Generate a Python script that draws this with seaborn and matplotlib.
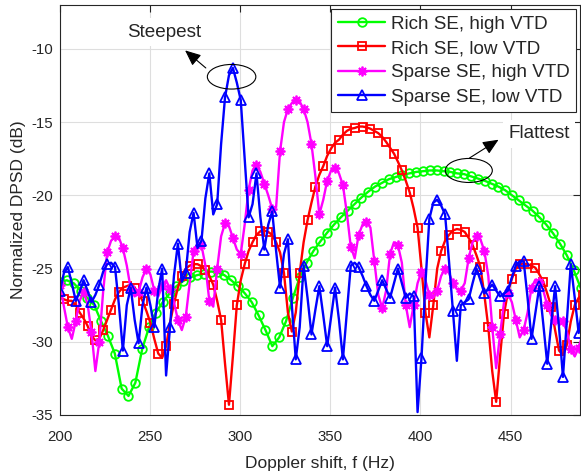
import numpy as np
import matplotlib
matplotlib.use("Agg")
import matplotlib.pyplot as plt
from matplotlib.patches import Ellipse
from matplotlib.lines import Line2D
import seaborn as sns

# Doppler-frequency sampling (Hz): fine grid for the rich/sparse low-VTD and
# sparse high-VTD spectra, coarser grid for the rich high-VTD spectrum.
F_START = 200.0
FINE_STEP = 2.18
COARSE_STEP = 3.8

# Normalized DPSD values (dB)
RICH_HIGH_DB = [
    -25.9, -25.8, -26.0, -26.5, -27.0, -27.5, -28.6, -29.6, -30.8, -33.2,
    -33.7, -32.8, -30.5, -29.0, -28.0, -27.3, -26.7, -26.2, -25.85, -25.6,
    -25.45, -25.35, -25.2, -25.25, -25.45, -25.8, -26.2, -26.7, -27.3, -28.2,
    -29.2, -30.3, -29.7, -28.6, -27.0, -25.6, -24.6, -23.8, -23.15, -22.55,
    -22.0, -21.5, -21.05, -20.6, -20.15, -19.75, -19.4, -19.15, -18.9, -18.75,
    -18.6, -18.5, -18.4, -18.35, -18.3, -18.3, -18.35, -18.4, -18.5, -18.55,
    -18.7, -18.85, -19.0, -19.2, -19.4, -19.65, -20.0, -20.35, -20.7, -21.05,
    -21.5, -22.0, -22.6, -23.3, -24.1, -25.1, -26.3, -27.5,
]

RICH_LOW_DB = [
    -27.0, -27.1, -27.2, -27.2, -27.5, -28.0, -28.4, -28.9, -29.6, -29.9,
    -29.8, -29.2, -28.5, -27.8, -27.1, -26.6, -26.3, -26.2, -26.1, -26.3,
    -26.7, -27.2, -27.9, -28.7, -29.8, -30.8, -31.1, -30.3, -28.7, -27.4,
    -26.3, -25.5, -25.0, -24.8, -24.7, -24.7, -24.85, -25.1, -25.5, -26.1,
    -27.2, -28.5, -31.5, -34.3, -31.0, -27.5, -25.8, -24.7, -23.8, -23.2,
    -22.7, -22.45, -22.4, -22.5, -22.7, -23.2, -23.9, -25.3, -28.0, -29.3,
    -28.0, -25.3, -23.2, -21.7, -20.5, -19.4, -18.6, -18.0, -17.3, -16.8,
    -16.4, -16.2, -15.85, -15.6, -15.45, -15.4, -15.3, -15.3, -15.35, -15.45,
    -15.6, -15.75, -16.0, -16.35, -16.75, -17.15, -17.7, -18.3, -19.0, -19.8,
    -20.9, -22.2, -25.0, -28.0, -29.7, -27.5, -25.0, -23.8, -23.1, -22.7,
    -22.4, -22.3, -22.35, -22.5, -22.9, -23.4, -24.1, -24.9, -26.8, -29.0,
    -32.0, -34.1, -31.0, -28.1, -26.6, -25.7, -25.0, -24.7, -24.65, -24.7,
    -24.8, -24.95, -25.4, -25.9, -26.7, -27.6, -29.2, -30.6, -30.9, -30.2,
    -28.6, -27.5, -27.0, -26.8,
]

SPARSE_HIGH_DB = [
    -26.1, -27.6, -29.0, -29.8, -28.6, -27.2, -26.6, -27.4, -29.3, -32.0,
    -30.0, -26.5, -23.9, -23.1, -22.8, -22.9, -23.6, -24.8, -26.4, -26.9,
    -26.6, -25.6, -25.0, -25.4, -26.5, -26.9, -26.2, -25.8, -26.4, -27.3,
    -28.5, -29.2, -28.3, -26.0, -23.8, -23.3, -23.4, -24.8, -27.2, -27.6,
    -25.0, -22.8, -21.9, -22.1, -22.9, -23.7, -24.0, -22.0, -19.6, -18.3,
    -17.9, -18.4, -19.2, -20.0, -20.9, -20.8, -17.0, -15.0, -14.1, -13.7,
    -13.5, -13.6, -14.1, -15.0, -16.5, -18.7, -21.3, -20.3, -19.0, -18.3,
    -18.1, -18.5, -19.3, -21.2, -23.5, -24.3, -22.7, -22.0, -21.8, -22.2,
    -24.5, -26.8, -27.7, -26.5, -24.0, -23.2, -23.4, -24.6, -27.5, -29.0,
    -27.5, -26.0, -25.2, -25.8, -26.8, -27.0, -26.5, -25.5, -25.0, -25.3,
    -26.0, -26.4, -26.5, -26.0, -24.3, -23.2, -22.8, -23.0, -23.8, -25.5,
    -29.0, -31.8, -29.5, -27.3, -26.7, -27.3, -28.5, -29.7, -29.2, -28.0,
    -26.3, -25.75, -25.9, -26.5, -27.5, -28.2, -28.5, -28.6, -28.6, -29.3,
    -30.5, -31.0, -30.4, -29.5,
]

SPARSE_LOW_DB = [
    -26.5, -25.3, -24.9, -26.0, -27.2, -26.6, -25.8, -26.5, -27.3, -26.8,
    -26.1, -25.2, -24.7, -24.6, -24.9, -27.5, -30.6, -27.5, -26.3, -28.5,
    -30.1, -27.5, -26.3, -27.5, -29.0, -26.5, -25.0, -32.3, -29.0, -25.5,
    -23.3, -25.9, -25.3, -22.5, -21.2, -23.6, -23.1, -20.2, -18.5, -21.3,
    -20.6, -16.5, -13.3, -11.8, -11.3, -12.3, -13.5, -17.5, -21.5, -20.6,
    -18.5, -21.5, -23.7, -22.0, -21.1, -23.8, -26.3, -24.0, -23.0, -27.5,
    -31.2, -29.0, -24.8, -27.0, -29.5, -27.8, -26.2, -28.2, -30.3, -28.3,
    -26.3, -28.5, -31.2, -28.0, -24.8, -24.6, -24.9, -25.5, -26.2, -26.8,
    -27.2, -26.5, -25.8, -26.4, -27.0, -26.0, -25.0, -26.0, -27.0, -26.7,
    -26.9, -34.8, -31.1, -26.0, -21.6, -20.5, -20.3, -20.7, -21.3, -24.5,
    -27.9, -31.3, -27.5, -27.3, -27.1, -26.0, -25.0, -25.8, -26.7, -26.4,
    -26.1, -26.5, -26.9, -26.7, -26.5, -25.6, -24.8, -24.5, -24.5, -27.0,
    -29.8, -28.0, -26.2, -28.8, -31.5, -28.8, -26.2, -29.0, -32.4, -28.5,
    -24.7, -27.0, -29.4, -27.5,
]

LABELS = ["Rich SE, high VTD", "Rich SE, low VTD",
          "Sparse SE, high VTD", "Sparse SE, low VTD"]
X_TICKS = [200, 250, 300, 350, 400, 450]
Y_TICKS = [-35, -30, -25, -20, -15, -10]

freq_fine = np.round(F_START + FINE_STEP * np.arange(len(RICH_LOW_DB)), 2)
freq_coarse = np.round(F_START + COARSE_STEP * np.arange(len(RICH_HIGH_DB)), 2)

sns.set_theme(style="white")
plt.rcParams["font.family"] = ["Liberation Sans", "DejaVu Sans"]
plt.rcParams["axes.unicode_minus"] = False

INK = "#262626"
fig = plt.figure(figsize=(5.81, 4.75), dpi=100)
ax = fig.add_axes([60 / 581, 1 - 415 / 475, 520 / 581, 410 / 475])

styles = [
    # x, y, colour, marker, marker size, markevery
    (freq_coarse, RICH_HIGH_DB, "#00ff00", "o", 6.2, None),
    (freq_fine, RICH_LOW_DB, "#ff0000", "s", 6.0, (1, 2)),
    (freq_fine, SPARSE_HIGH_DB, "#ff00ff", (8, 2, 0), 7, (0, 2)),
    (freq_fine, SPARSE_LOW_DB, "#0000ff", "^", 7.5, (0, 2)),
]

handles = []
for x, y, col, mk, ms, every in styles:
    sns.lineplot(x=x, y=y, ax=ax, color=col, lw=1.7, marker=mk, markersize=ms,
                 markevery=every, mfc="none", mec=col, mew=1.3,
                 errorbar=None, sort=False, legend=False)
    handles.append(Line2D([], [], color=col, lw=1.7, marker=mk, markersize=ms,
                          mfc="none", mec=col, mew=1.3))

ax.set_xlim(200, 488.5)
ax.set_ylim(-35, -7)
ax.set_xticks(X_TICKS)
ax.set_yticks(Y_TICKS)
ax.grid(True, color="#dedede", lw=0.8)
ax.set_axisbelow(True)
for s in ax.spines.values():
    s.set_color(INK)
    s.set_linewidth(0.8)
ax.tick_params(direction="in", top=True, right=True, length=5, width=0.8,
               colors=INK, labelsize=10.8)
ax.tick_params(axis="x", pad=10.5)
ax.tick_params(axis="y", pad=5)
ax.set_xlabel("Doppler shift, f (Hz)", fontsize=12.5, color=INK, labelpad=9)
ax.set_ylabel("Normalized DPSD (dB)", fontsize=12.5, color=INK, labelpad=4)

leg = ax.legend(handles, LABELS, loc="upper right", fontsize=13.6,
                frameon=True, fancybox=False, framealpha=1, edgecolor=INK,
                borderaxespad=0.2, handlelength=2.5, handletextpad=0.3,
                labelspacing=0.38, borderpad=0.35)
leg.get_frame().set_linewidth(0.8)

# highlight the sharpest and the flattest spectral peaks
ax.add_patch(Ellipse((295.2, -11.9), 26.9, 1.68, fill=False, ec="black", lw=0.8, zorder=5))
ax.add_patch(Ellipse((426.8, -18.3), 26.1, 1.64, fill=False, ec="black", lw=0.8, zorder=5))
arrow = dict(arrowstyle="-|>,head_length=0.8,head_width=0.35", color="black", lw=0.8,
             shrinkA=0, shrinkB=0)
ax.annotate("", xy=(269.4, -10.1), xytext=(280.9, -11.3), arrowprops=arrow, zorder=6)
ax.annotate("", xy=(443.3, -16.2), xytext=(427.2, -17.45), arrowprops=arrow, zorder=6)
box = dict(facecolor="white", edgecolor="none", pad=4)
ax.text(257.8, -8.85, "Steepest", fontsize=13.6, ha="center", va="center", bbox=box, zorder=6)
ax.text(465.6, -15.8, "Flattest", fontsize=13.6, ha="center", va="center", bbox=box, zorder=6)

fig.savefig("out.png", dpi=100)
